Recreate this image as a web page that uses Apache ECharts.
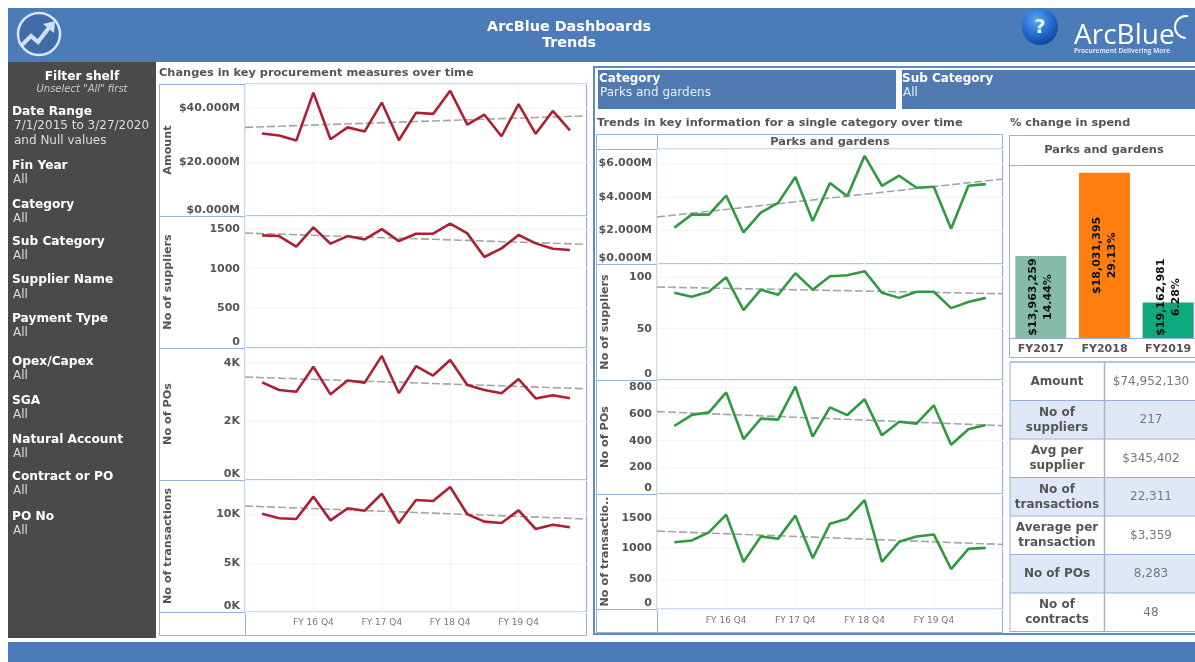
<!DOCTYPE html>
<html>
<head>
<meta charset="utf-8">
<title>ArcBlue Dashboards - Trends</title>
<script src="https://cdn.jsdelivr.net/npm/echarts@6/dist/echarts.min.js"></script>
<style>
html, body { margin: 0; padding: 0; background: #fff; overflow: hidden; }
#main { width: 1195px; height: 662px; }
</style>
</head>
<body>
<div id="main"></div>
<script>
// quarters, with an empty slot at each end like the original axis
var quarters = ['', 'FY 16 Q1', 'FY 16 Q2', 'FY 16 Q3', 'FY 16 Q4', 'FY 17 Q1', 'FY 17 Q2', 'FY 17 Q3', 'FY 17 Q4',
	'FY 18 Q1', 'FY 18 Q2', 'FY 18 Q3', 'FY 18 Q4', 'FY 19 Q1', 'FY 19 Q2', 'FY 19 Q3', 'FY 19 Q4',
	'FY 20 Q1', 'FY 20 Q2', 'FY 20 Q3', ''];

// all categories (left column)
var allAmount = [30.6, 29.9, 28, 45.8, 28.5, 32.9, 31.4, 42.1, 28.1, 38.3, 37.9, 46.5, 33.9, 37.6, 29.6, 41.5, 30.5, 39, 31.8];
var allAmountTrend = [32.9, 37.2];
var allSuppliers = [1420, 1411, 1277, 1520, 1315, 1411, 1369, 1499, 1348, 1441, 1441, 1567, 1445, 1147, 1256, 1424, 1319, 1252, 1235];
var allSuppliersTrend = [1449, 1306];
var allPOs = [3330, 3070, 3010, 3860, 2920, 3390, 3320, 4230, 2960, 3880, 3560, 4090, 3240, 3070, 2960, 3440, 2780, 2890, 2790];
var allPOsTrend = [3510, 3110];
var allTransactions = [10030, 9560, 9490, 11770, 9350, 10580, 10340, 12070, 9080, 11430, 11330, 12760, 9970, 9220, 9080, 10370, 8470, 8910, 8640];
var allTransactionsTrend = [10820, 9490];

// parks and gardens (middle column)
var parkAmount = [2.16, 2.94, 2.94, 4.08, 1.88, 3.06, 3.64, 5.18, 2.56, 4.82, 4.04, 6.44, 4.66, 5.26, 4.54, 4.6, 2.1, 4.66, 4.76];
var parkAmountTrend = [2.8, 5.06];
var parkSuppliers = [85, 81, 86, 100, 68, 88, 83, 104, 88, 101, 102, 106, 85, 80, 86, 86, 70, 76, 80];
var parkSuppliersTrend = [90.6, 84];
var parkPOs = [510, 592, 612, 762, 412, 565, 558, 805, 430, 650, 592, 710, 440, 542, 528, 665, 370, 485, 518];
var parkPOsTrend = [618, 512];
var parkTransactions = [1105, 1133, 1267, 1561, 778, 1200, 1161, 1544, 839, 1411, 1494, 1800, 778, 1111, 1200, 1233, 661, 994, 1011];
var parkTransactionsTrend = [1289, 1067];

// % change in spend
var spendYears = ['FY2017', 'FY2018', 'FY2019'];
var spendAmounts = ['$13,963,259', '$18,031,395', '$19,162,981'];
var spendChange = [14.44, 29.13, 6.28];

// summary table
var tableNames = ['Amount', 'No of\nsuppliers', 'Avg per\nsupplier', 'No of\ntransactions', 'Average per\ntransaction', 'No of POs', 'No of\ncontracts'];
var tableValues = ['$74,952,130', '217', '$345,402', '22,311', '$3,359', '8,283', '48'];

// filter shelf
var filterNames = ['Fin Year', 'Category', 'Sub Category', 'Supplier Name', 'Payment Type', 'Opex/Capex', 'SGA', 'Natural Account', 'Contract or PO', 'PO No'];

var FONT = '"DejaVu Sans", sans-serif';
var BLUE = '#4b7bb8';
var FRAME = '#96b0dc';
var GREY = '#555';

var myChart = echarts.init(document.getElementById('main'));

function money(v) { return '$' + v.toFixed(3) + 'M'; }
function kilo(v) { return (v / 1000) + 'K'; }

var leftFrame = { left: 245, width: 342, nameGap: 71, color: '#b01e33' };
var midFrame = { left: 657, width: 346, nameGap: 46, color: '#2f9a3f' };

var rows = [
	{ frame: leftFrame, top: 84, bottom: 216, max: 49, interval: 20, fmt: money, name: 'Amount', data: allAmount, trend: allAmountTrend },
	{ frame: leftFrame, top: 216, bottom: 348, max: 1664, interval: 500, name: 'No of suppliers', data: allSuppliers, trend: allSuppliersTrend },
	{ frame: leftFrame, top: 348, bottom: 480, max: 4500, interval: 2000, fmt: kilo, name: 'No of POs', data: allPOs, trend: allPOsTrend },
	{ frame: leftFrame, top: 480, bottom: 612, max: 13470, interval: 5000, fmt: kilo, name: 'No of transactions', data: allTransactions, trend: allTransactionsTrend, last: true, labelGap: 6 },
	{ frame: midFrame, top: 149, bottom: 264, max: 6.85, interval: 2, fmt: money, name: '', data: parkAmount, trend: parkAmountTrend },
	{ frame: midFrame, top: 264, bottom: 380, max: 113, interval: 50, name: 'No of suppliers', data: parkSuppliers, trend: parkSuppliersTrend },
	{ frame: midFrame, top: 380, bottom: 494, max: 855, interval: 200, name: 'No of POs', data: parkPOs, trend: parkPOsTrend },
	{ frame: midFrame, top: 494, bottom: 609, max: 1902, interval: 500, name: 'No of transactio..', data: parkTransactions, trend: parkTransactionsTrend, last: true, labelGap: 7 }
];

var grids = [], xAxes = [], yAxes = [], series = [];

rows.forEach(function (row, i) {
	grids.push({
		left: row.frame.left, width: row.frame.width, top: row.top, height: row.bottom - row.top,
		outerBoundsMode: 'none',
		show: true, borderColor: FRAME, borderWidth: 1, backgroundColor: 'transparent'
	});
	xAxes.push({
		type: 'category', gridIndex: i, data: quarters, boundaryGap: false,
		axisLine: { show: false }, axisTick: { show: false },
		splitLine: { show: true, interval: 3, lineStyle: { color: '#f0f3f8', width: 1 } },
		axisLabel: {
			show: !!row.last, interval: 3, margin: row.labelGap || 6,
			color: '#777', fontFamily: FONT, fontSize: 9
		}
	});
	yAxes.push({
		type: 'value', gridIndex: i, min: 0, max: row.max, interval: row.interval,
		name: row.name, nameLocation: 'middle', nameGap: row.frame.nameGap,
		nameTextStyle: { color: GREY, fontFamily: FONT, fontSize: 11.2, fontWeight: 'bold' },
		axisLine: { show: false }, axisTick: { show: false },
		splitLine: { show: true, lineStyle: { color: '#f0f3f8', width: 1 } },
		axisLabel: {
			margin: 5, color: GREY, fontFamily: FONT, fontSize: 11, fontWeight: 'bold',
			showMaxLabel: false, verticalAlignMinLabel: 'bottom',
			formatter: row.fmt || function (v) { return String(v); }
		}
	});
	series.push({
		type: 'line', xAxisIndex: i, yAxisIndex: i, showSymbol: false, silent: true, connectNulls: true,
		data: [row.trend[0]].concat(row.data.map(function () { return null; }), [row.trend[1]]),
		lineStyle: { color: '#a5a5a5', width: 1.6, type: [8, 3] }, z: 2
	});
	series.push({
		type: 'line', xAxisIndex: i, yAxisIndex: i, showSymbol: false, silent: true,
		data: [null].concat(row.data, [null]),
		lineStyle: { color: row.frame.color, width: 2.6 }, z: 3
	});
});

// bar chart for % change in spend
var barIndex = rows.length;
grids.push({ left: 1009, width: 191, top: 165, height: 173, outerBoundsMode: 'none' });
xAxes.push({
	type: 'category', gridIndex: barIndex, data: spendYears,
	axisLine: { lineStyle: { color: FRAME } }, axisTick: { show: false },
	axisLabel: { margin: 6, color: GREY, fontFamily: FONT, fontSize: 11, fontWeight: 'bold' }
});
yAxes.push({ type: 'value', gridIndex: barIndex, min: 0, max: 30.5, show: false });
var barColors = ['#85bba9', '#ff7f0e', '#0ea97c'];
series.push({
	type: 'bar', xAxisIndex: barIndex, yAxisIndex: barIndex, barWidth: 51, silent: true,
	data: spendChange.map(function (v, i) {
		return {
			value: v,
			itemStyle: { color: barColors[i] },
			// the FY2019 label does not fit in its bar, so it sits higher
			label: { offset: i === 2 ? [23, 0] : [0, 0] }
		};
	}),
	label: {
		show: true, position: 'inside', rotate: 90, color: '#111', lineHeight: 15,
		fontFamily: FONT, fontSize: 11, fontWeight: 'bold',
		formatter: function (p) { return spendAmounts[p.dataIndex] + '\n' + spendChange[p.dataIndex] + '%'; }
	}
});

// page furniture: bands, frames, texts
var gfx = [];
function rect(x, y, w, h, fill, stroke, lw) {
	gfx.push({ type: 'rect', silent: true, shape: { x: x, y: y, width: w, height: h }, style: { fill: fill || 'none', stroke: stroke || 'none', lineWidth: lw || 1 } });
}
function text(str, x, y, size, color, opts) {
	opts = opts || {};
	gfx.push({
		type: 'text', silent: true, z: 5,
		style: {
			text: str, x: x, y: y + 0.5, fill: color, align: opts.align || 'left', verticalAlign: 'middle',
			font: (opts.italic ? 'italic ' : '') + (opts.bold ? 'bold ' : '') + size + 'px ' + (opts.family || FONT),
			lineHeight: opts.lineHeight
		}
	});
}

rect(8, 8, 1187, 54, BLUE);
rect(8, 642, 1187, 20, BLUE);
rect(8, 62, 148, 576, '#4a4a4a');
text('ArcBlue Dashboards', 569, 27, 14.4, '#fff', { bold: true, align: 'center' });
text('Trends', 569, 43, 14.4, '#fff', { bold: true, align: 'center' });

// left logo
gfx.push({ type: 'circle', silent: true, shape: { cx: 39, cy: 34, r: 21 }, style: { fill: '#3f6ca8', stroke: '#dbe6f3', lineWidth: 2.5 } });
gfx.push({ type: 'polyline', silent: true, shape: { points: [[22, 45], [31, 36], [38, 42], [51, 25]] }, style: { fill: 'none', stroke: '#cfe0f2', lineWidth: 4 } });
gfx.push({ type: 'polygon', silent: true, shape: { points: [[43, 24], [55, 21], [54, 33]] }, style: { fill: '#cfe0f2' } });

// help button and brand
gfx.push({
	type: 'circle', silent: true, shape: { cx: 1040, cy: 27, r: 18 },
	style: { fill: new echarts.graphic.RadialGradient(0.4, 0.3, 0.75, [{ offset: 0, color: '#5aa8f2' }, { offset: 0.6, color: '#2068cc' }, { offset: 1, color: '#0f4296' }]) }
});
text('?', 1040, 27, 20, '#e8f2fc', { bold: true, align: 'center' });
text('ArcBlue', 1074, 36, 28, '#fff', { family: '"Open Sans", sans-serif' });
text('Procurement Delivering More', 1074, 51, 6.5, '#dce7f4', { bold: true, family: '"Open Sans", sans-serif' });
gfx.push({ type: 'arc', silent: true, shape: { cx: 1186, cy: 27, r: 11, startAngle: 1.6, endAngle: 4.9 }, style: { fill: 'none', stroke: '#fff', lineWidth: 2 } });

// filter shelf
text('Filter shelf', 82, 76, 12.2, '#fff', { bold: true, align: 'center' });
text('Unselect "All" first', 82, 89, 10, '#ccc', { italic: true, align: 'center' });
text('Date Range', 12, 111, 12.2, '#fff', { bold: true });
text('7/1/2015 to 3/27/2020', 14, 125.5, 12, '#ddd');
text('and Null values', 14, 140, 12, '#ddd');
var filterTops = [165, 204, 241, 279.5, 318, 361, 400, 439, 476, 516];
filterNames.forEach(function (name, i) {
	text(name, 12, filterTops[i], 12.2, '#fff', { bold: true });
	text('All', 13, filterTops[i] + 14.5, 12, '#ddd');
});

// left column
text('Changes in key procurement measures over time', 159, 73, 11.35, GREY, { bold: true });
rect(159.5, 84.5, 427, 551, null, FRAME);
gfx.push({ type: 'line', silent: true, shape: { x1: 245.5, y1: 84, x2: 245.5, y2: 635 }, style: { stroke: FRAME } });
[216, 348, 480, 612].forEach(function (y) {
	gfx.push({ type: 'line', silent: true, shape: { x1: 159, y1: y + 0.5, x2: 587, y2: y + 0.5 }, style: { stroke: FRAME } });
});

// middle column
rect(594, 67, 610, 567, null, '#5f8cc4', 2);
rect(598, 70, 298, 39, '#5079af');
rect(902, 70, 293, 39, '#5079af');
text('Category', 599, 78, 12, '#fff', { bold: true });
text('Parks and gardens', 600, 92, 12, '#e8eef6');
text('Sub Category', 902, 78, 12, '#fff', { bold: true });
text('All', 903, 92, 12, '#e8eef6');
text('Trends in key information for a single category over time', 597, 123, 11.35, GREY, { bold: true });
rect(596.5, 134.5, 406, 498, null, FRAME);
gfx.push({ type: 'line', silent: true, shape: { x1: 657.5, y1: 134, x2: 657.5, y2: 633 }, style: { stroke: FRAME } });
[149, 264, 380, 494, 609].forEach(function (y) {
	gfx.push({ type: 'line', silent: true, shape: { x1: 596, y1: y + 0.5, x2: 1003, y2: y + 0.5 }, style: { stroke: FRAME } });
});
text('Parks and gardens', 830, 141.5, 11.35, GREY, { bold: true, align: 'center' });

// bar panel
text('% change in spend', 1010, 123, 11.35, GREY, { bold: true });
rect(1009.5, 135.5, 190, 222, null, FRAME);
gfx.push({ type: 'line', silent: true, shape: { x1: 1009, y1: 165.5, x2: 1195, y2: 165.5 }, style: { stroke: FRAME } });
text('Parks and gardens', 1104, 150, 11.35, GREY, { bold: true, align: 'center' });

// summary table
var tableTop = 362, rowH = 38.5;
tableNames.forEach(function (name, i) {
	var y = tableTop + i * rowH;
	rect(1010, y, 190, rowH, i % 2 ? '#e0e8f8' : '#fff');
	gfx.push({ type: 'line', silent: true, shape: { x1: 1010, y1: y, x2: 1195, y2: y }, style: { stroke: FRAME } });
	text(name, 1057, y + rowH / 2, 12, GREY, { bold: true, align: 'center', lineHeight: 15 });
	text(tableValues[i], 1151, y + rowH / 2, 12, '#777', { align: 'center' });
});
rect(1010, tableTop, 190, rowH * tableNames.length, null, FRAME);
gfx.push({ type: 'line', silent: true, shape: { x1: 1104.5, y1: tableTop, x2: 1104.5, y2: tableTop + rowH * tableNames.length }, style: { stroke: '#a9b2bf', lineWidth: 1.5 } });

myChart.setOption({
	animation: false,
	backgroundColor: '#fff',
	grid: grids,
	xAxis: xAxes,
	yAxis: yAxes,
	series: series,
	graphic: gfx
});
</script>
</body>
</html>
